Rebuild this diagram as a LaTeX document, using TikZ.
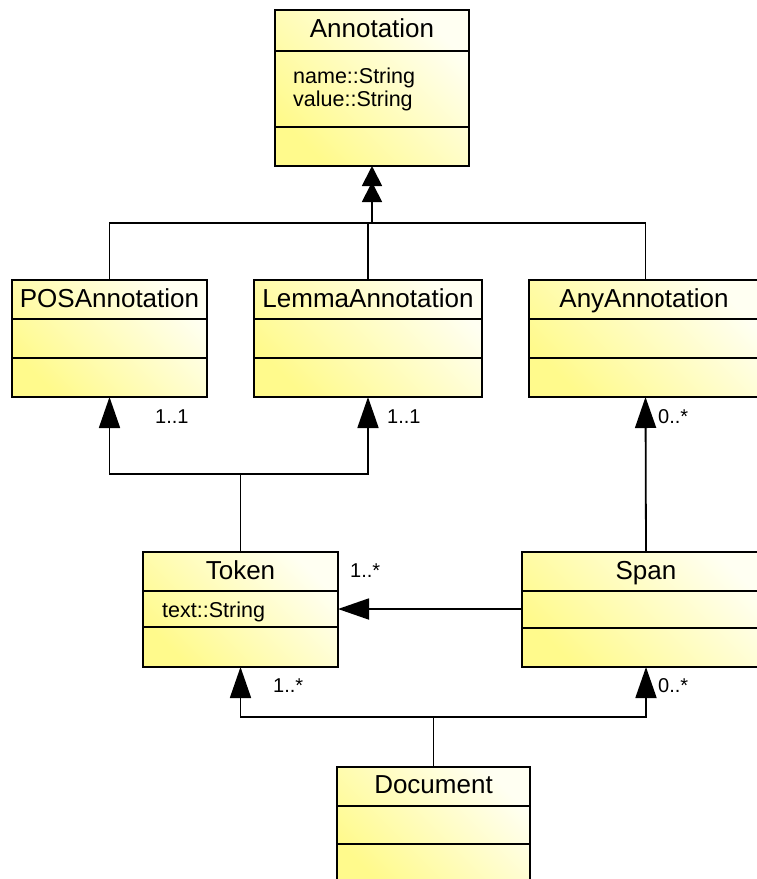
\documentclass[tikz,border=0pt]{standalone}
\usepackage{fontspec}
\setmainfont{Liberation Sans}
\usetikzlibrary{arrows.meta}
\definecolor{ylwA}{RGB}{255,250,140}
\definecolor{ylwB}{RGB}{255,255,242}
\tikzset{
  umlbox/.style={draw=black, line width=1.8pt, rectangle, inner sep=0pt, outer sep=0pt,
    anchor=north west, left color=ylwA, right color=ylwB, shading angle=135},
  divl/.style={line width=1.8pt, draw=black},
  hdr/.style={font=\fontsize{26}{28}\selectfont, anchor=base, inner sep=0pt},
  attr/.style={font=\fontsize{21.5}{23}\selectfont, anchor=base west, inner sep=0pt},
  mult/.style={font=\fontsize{20}{22}\selectfont, anchor=base west, inner sep=0pt},
  conn/.style={line width=1.8pt, draw=black},
  gen/.style={conn, -{Triangle[length=31pt,width=21pt]}},
  gendbl/.style={conn, -{Triangle[length=20pt,width=20pt,sep=-4pt]Triangle[length=20pt,width=20pt]}},
}
\begin{document}
\begin{tikzpicture}[x=1pt, y=-1pt]
\useasboundingbox (0,0) rectangle (757,879);
\fill[white] (0,0) rectangle (757,879);
\clip (0,0) rectangle (757,879);

% boxes
\node[umlbox, minimum width=194pt, minimum height=156pt] (annot) at (275,10) {};
\draw[divl] (275,51) -- (469,51);
\draw[divl] (275,127) -- (469,127);
\node[hdr] (annotT) at (372,37) {Annotation};
\node[attr] (annotA1) at (293,83) {name::String};
\node[attr] (annotA2) at (293,106) {value::String};

\node[umlbox, minimum width=195pt, minimum height=117pt] (pos) at (12,280) {};
\draw[divl] (12,319) -- (207,319);
\draw[divl] (12,358) -- (207,358);
\node[hdr] (posT) at (109.5,307) {POSAnnotation};

\node[umlbox, minimum width=228pt, minimum height=117pt] (lemma) at (254,280) {};
\draw[divl] (254,319) -- (482,319);
\draw[divl] (254,358) -- (482,358);
\node[hdr] (lemmaT) at (368,307) {LemmaAnnotation};

\node[umlbox, minimum width=233pt, minimum height=117pt] (any) at (529,280) {};
\draw[divl] (529,319) -- (762,319);
\draw[divl] (529,358) -- (762,358);
\node[hdr] (anyT) at (644,307) {AnyAnnotation};

\node[umlbox, minimum width=195pt, minimum height=115pt] (token) at (143,552) {};
\draw[divl] (143,591) -- (338,591);
\draw[divl] (143,627) -- (338,627);
\node[hdr] (tokenT) at (240.5,579) {Token};
\node[attr] (tokenA1) at (162,617) {text::String};

\node[umlbox, minimum width=248pt, minimum height=115pt] (span) at (522,552) {};
\draw[divl] (522,591) -- (770,591);
\draw[divl] (522,628) -- (770,628);
\node[hdr] (spanT) at (646,579) {Span};

\node[umlbox, minimum width=193pt, minimum height=120pt] (doc) at (337,767) {};
\draw[divl] (337,806) -- (530,806);
\draw[divl] (337,844) -- (530,844);
\node[hdr] (docT) at (433.5,793) {Document};

% generalization to Annotation
\coordinate (jA) at (372,223);
\draw[conn] (pos.north) |- (jA) -| (any.north);
\draw[conn] (lemma.north) -- (lemma.north |- jA);
\draw[gendbl] (jA) -- (annot.south);

% Token -> POS / Lemma
\coordinate (jT) at (240.5,474);
\draw[conn] (token.north) -- (jT);
\draw[gen] (jT) -| (pos.south);
\draw[gen] (jT) -| (lemma.south);

% Span -> AnyAnnotation
\draw[gen] (span.north) -- (any.south);

% Span -> Token
\coordinate (sT) at (522,609);
\draw[gen] (sT) -- (token.east |- sT);

% Document -> Token / Span
\coordinate (jD) at (433.5,717);
\draw[conn] (doc.north) -- (jD);
\draw[gen] (jD) -| (token.south);
\draw[gen] (jD) -| (span.south);

% multiplicities
\node[mult] (m1) at (155,423) {1..1};
\node[mult] (m2) at (387,423) {1..1};
\node[mult] (m3) at (658,423) {0..*};
\node[mult] (m4) at (350,577) {1..*};
\node[mult] (m5) at (273,692) {1..*};
\node[mult] (m6) at (658,692) {0..*};
\end{tikzpicture}
\end{document}
